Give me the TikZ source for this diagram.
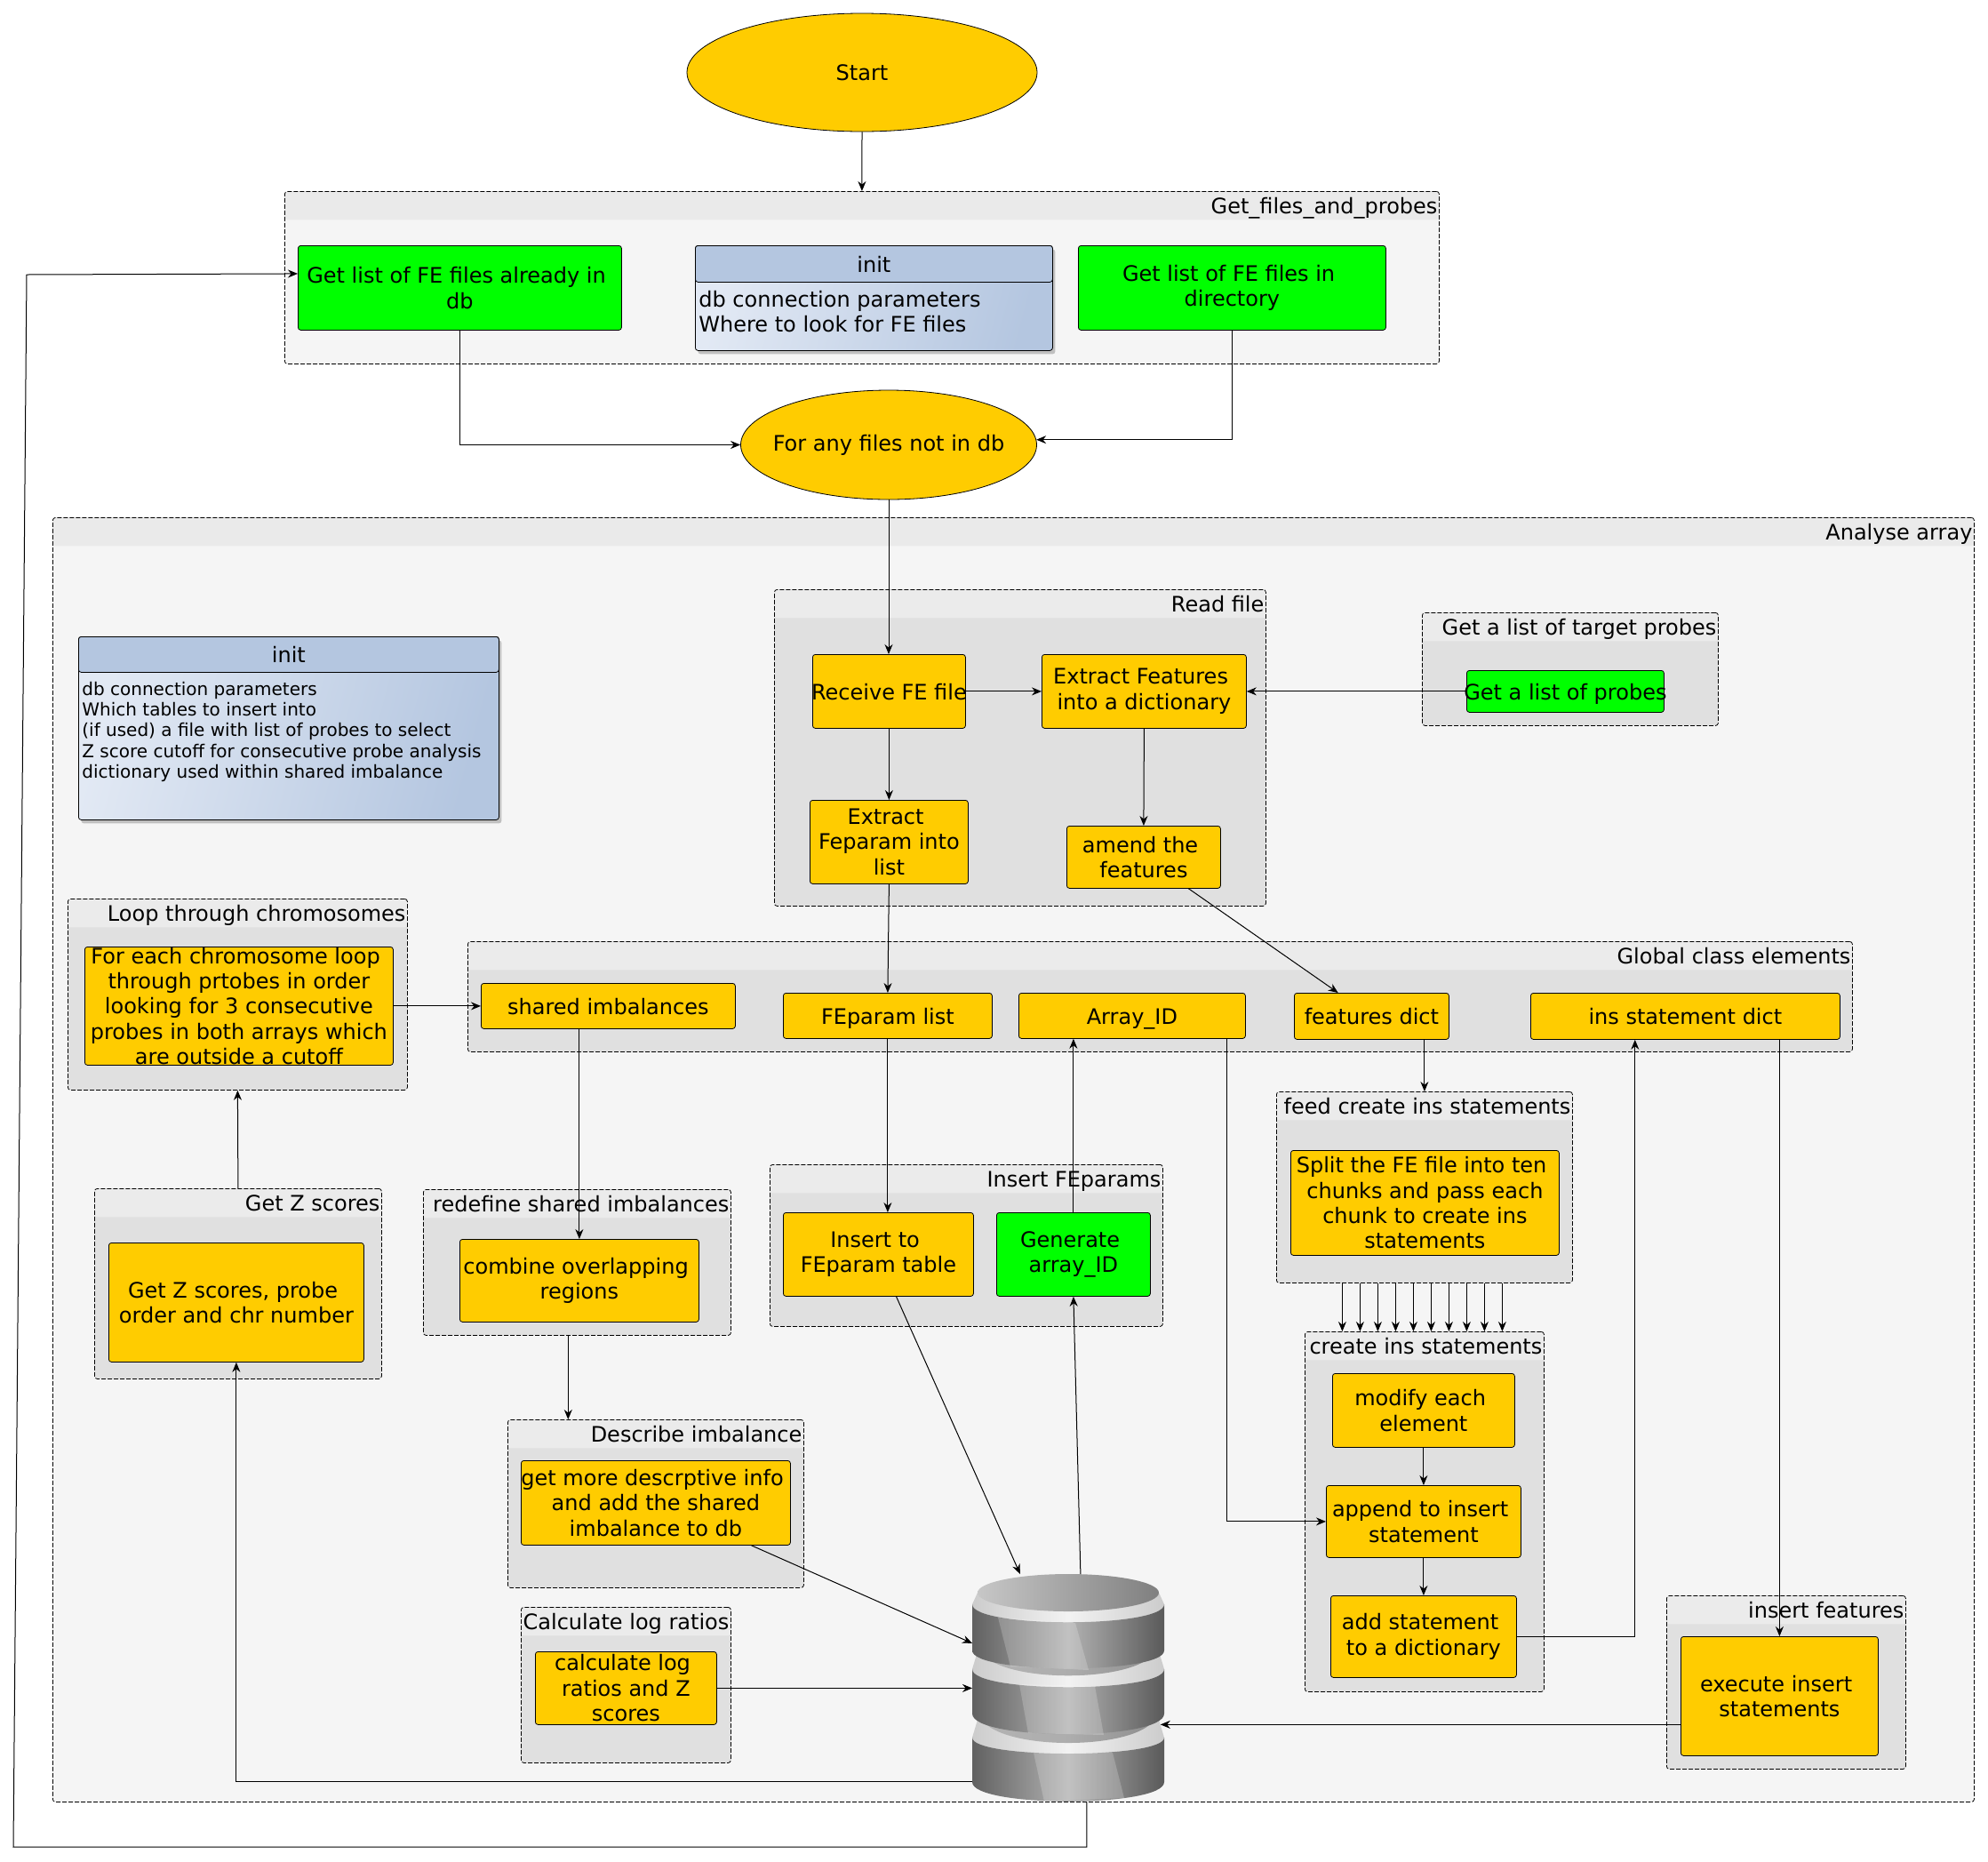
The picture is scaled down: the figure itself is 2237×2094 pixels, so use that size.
\documentclass[tikz,border=0pt]{standalone}
\usepackage{fontspec}
\setmainfont{DejaVu Sans}
\usetikzlibrary{arrows.meta,shapes.geometric,shadows}
\definecolor{flowgold}{HTML}{FFCC00}
\definecolor{flowgreen}{HTML}{00FF00}
\definecolor{initblue}{HTML}{B4C6E0}
\definecolor{initpale}{HTML}{E2E9F4}
\definecolor{outerbody}{HTML}{F5F5F5}
\definecolor{outerhead}{HTML}{EAEAEA}
\definecolor{innerbody}{HTML}{E0E0E0}
\definecolor{innerhead}{HTML}{EBEBEB}
\newcommand{\tsp}{\hspace*{0.318em}}
\tikzset{
  wh/.style 2 args={minimum width=#1*0.5pt,minimum height=#2*0.5pt},
  basefont/.style={font=\fontsize{12pt}{14.2pt}\selectfont},
  flowbox/.style={draw,rounded corners=1.5pt,anchor=north west,inner sep=0pt,align=center,line width=0.4pt,basefont},
  goldbox/.style={flowbox,fill=flowgold},
  greenbox/.style={flowbox,fill=flowgreen},
  oneline/.style={text height=11.2pt,text depth=2pt},
  oval/.style={draw,ellipse,fill=flowgold,inner sep=0pt,line width=0.4pt,basefont},
  groupbox/.style 2 args={draw,dash pattern=on 2.5pt off 1pt,rounded corners=1.5pt,anchor=north west,inner sep=0pt,line width=0.4pt,fill=#1,
    path picture={\fill[#2] (path picture bounding box.north west) rectangle ([yshift=-16pt]path picture bounding box.north east);}},
  outergroup/.style={groupbox={outerbody}{outerhead}},
  innergroup/.style={groupbox={innerbody}{innerhead}},
  grouptitle/.style={anchor=north east,inner xsep=1pt,inner ysep=0pt,minimum height=16pt,oneline,basefont},
  inithead/.style={draw,fill=initblue,rounded corners=1.5pt,anchor=north west,inner sep=0pt,line width=0.4pt,basefont},
  initbody/.style={draw,left color=initpale,right color=initblue,shading angle=75,rounded corners=1.5pt,anchor=north west,inner sep=0pt,line width=0.4pt,drop shadow={shadow xshift=1.5pt,shadow yshift=-2pt,opacity=0.45}},
  inittext/.style={anchor=north west,align=left,inner xsep=2pt},
  link/.style={-{Stealth[length=5.5pt,width=4.5pt]},line width=0.5pt},
  dbband/.style={left color=black!62,right color=black!65,middle color=black!30},
  dbrim/.style={left color=black!20,right color=black!20,middle color=black!5},
  dbgap/.style={left color=black!30,right color=black!45,middle color=black!32},
  dbshine/.style={fill=white,opacity=0.2}
}
\begin{document}
\begin{tikzpicture}[x=0.5pt,y=-0.5pt]
\useasboundingbox (0,0) rectangle (2237,2094);
\node[oval,oneline,wh={394}{133}] (start) at (970,81.5) {\makebox[0pt]{Start}};
\node[outergroup,wh={1299}{194}] (filesgroup) at (320,215) {};
\node[grouptitle] (filestitle) at (filesgroup.north east) {Get\_files\_and\_probes};
\node[greenbox,wh={364}{95}] (getdb) at (335,276) {Get list of FE files already in\tsp\\db};
\node[initbody,wh={402}{118}] (initabody) at (782,276) {};
\node[inithead,wh={402}{41}] (initahead) at (782,276) {init};
\node[inittext,inner ysep=4.5pt,basefont] (initatext) at (initahead.south west) {db connection parameters\\Where to look for FE files};
\node[greenbox,wh={346}{95}] (getdir) at (1213,276) {Get list of FE files in\tsp\\directory};
\node[oval,oneline,wh={333}{123}] (forany) at (1000,500.5) {\raisebox{1.2pt}{\makebox[0pt]{For any files not in db}}};
\node[outergroup,wh={2162}{1445}] (analyse) at (59,582) {};
\node[grouptitle] (analysetitle) at (analyse.north east) {Analyse array};
\node[innergroup,wh={553}{356}] (readfile) at (871,663) {};
\node[grouptitle] (readtitle) at (readfile.north east) {Read file};
\node[goldbox,oneline,wh={172}{83}] (receive) at (914,736) {\makebox[0pt]{Receive FE file}};
\node[goldbox,wh={230}{83}] (extfeat) at (1172,736) {Extract Features\tsp\\into a dictionary};
\node[goldbox,wh={178}{94}] (extparam) at (911,900) {Extract\tsp\\Feparam into\tsp\\list};
\node[goldbox,wh={173}{70}] (amend) at (1200,929) {amend the\tsp\\features};
\node[innergroup,wh={333}{127}] (targetgroup) at (1600,689) {};
\node[grouptitle] (targettitle) at (targetgroup.north east) {Get a list of target probes};
\node[greenbox,oneline,wh={222}{47}] (getprobes) at (1650,754) {\makebox[0pt]{Get a list of probes}};
\node[initbody,wh={473}{206}] (initbbody) at (88,716) {};
\node[inithead,wh={473}{40}] (initbhead) at (88,716) {init};
\node[inittext,inner ysep=5pt,font=\fontsize{10pt}{11.6pt}\selectfont] (initbtext) at (initbhead.south west) {db connection parameters\\Which tables to insert into\\(if used) a file with list of probes to select\\Z score cutoff for consecutive probe analysis\\dictionary used within shared imbalance};
\node[innergroup,wh={382}{215}] (loopgroup) at (76,1011) {};
\node[grouptitle] (looptitle) at (loopgroup.north east) {Loop through chromosomes};
\node[goldbox,wh={347}{133}] (loopbox) at (95,1065) {For each chromosome loop\tsp\\through prtobes in order\tsp\\looking for 3 consecutive\tsp\\probes in both arrays which\tsp\\are outside a cutoff};
\node[innergroup,wh={1558}{124}] (globalgroup) at (526,1059) {};
\node[grouptitle] (globaltitle) at (globalgroup.north east) {Global class elements};
\node[goldbox,oneline,wh={286}{51}] (shared) at (541,1106) {shared imbalances};
\node[goldbox,oneline,wh={235}{51}] (feplist) at (881,1117) {FEparam list};
\node[goldbox,oneline,wh={255}{51}] (arrayid) at (1146,1117) {Array\_ID};
\node[goldbox,oneline,wh={174}{52}] (featdict) at (1456,1117) {features dict};
\node[goldbox,oneline,wh={348}{52}] (insdict) at (1722,1117) {ins statement dict};
\node[innergroup,wh={333}{215}] (feed) at (1436,1228) {};
\node[grouptitle] (feedtitle) at (feed.north east) {feed create ins statements};
\node[goldbox,wh={302}{118}] (split) at (1452,1294) {Split the FE file into ten\tsp\\chunks and pass each\tsp\\chunk to create ins\tsp\\statements};
\node[innergroup,wh={269}{405}] (create) at (1468,1498) {};
\node[grouptitle] (createtitle) at (create.north east) {create ins statements};
\node[goldbox,wh={205}{83}] (modify) at (1499,1545) {modify each\tsp\\element};
\node[goldbox,wh={219}{81}] (append) at (1492,1671) {append to insert\tsp\\statement};
\node[goldbox,wh={209}{92}] (addstate) at (1497,1795) {add statement\tsp\\to a dictionary};
\node[innergroup,wh={442}{182}] (insgroup) at (866,1310) {};
\node[grouptitle] (instile) at (insgroup.north east) {Insert FEparams};
\node[goldbox,wh={214}{94}] (insfe) at (881,1364) {Insert to\tsp\\FEparam table};
\node[greenbox,wh={173}{94}] (generate) at (1121,1364) {Generate\tsp\\array\_ID};
\node[innergroup,wh={346}{164}] (redefine) at (476,1338) {};
\node[grouptitle] (redefinetitle) at (redefine.north east) {redefine shared imbalances};
\node[goldbox,wh={269}{93}] (combine) at (517,1394) {combine overlapping\tsp\\regions};
\node[innergroup,wh={333}{189}] (describe) at (571,1597) {};
\node[grouptitle] (describetitle) at (describe.north east) {Describe imbalance};
\node[goldbox,wh={303}{95}] (getmore) at (586,1643) {get more descrptive info\tsp\\and add the shared\tsp\\imbalance to db};
\node[innergroup,wh={236}{175}] (calcgroup) at (586,1808) {};
\node[grouptitle] (calctitle) at (calcgroup.north east) {Calculate log ratios};
\node[goldbox,wh={204}{82}] (calcbox) at (602,1858) {calculate log\tsp\\ratios and Z\tsp\\scores};
\node[innergroup,wh={323}{214}] (zgroup) at (106,1337) {};
\node[grouptitle] (ztitle) at (zgroup.north east) {Get Z scores};
\node[goldbox,wh={287}{134}] (zbox) at (122,1398) {Get Z scores, probe\tsp\\order and chr number};
\node[innergroup,wh={269}{195}] (featgroup) at (1875,1795) {};
\node[grouptitle] (feattitle) at (featgroup.north east) {insert features};
\node[goldbox,wh={222}{134}] (execute) at (1891,1841) {execute insert\tsp\\statements};
\node[anchor=north west,inner sep=0pt,wh={216}{256}] (db) at (1094,1771) {};
\coordinate (loopa) at (15,2078);
\coordinate (loopb) at (30,309);
\draw[link] (start.south) -- (filesgroup.north);
\draw[link] (getdb.south) |- (forany.west);
\draw[link] (getdir.south) |- (forany.2);
\draw[link] (forany.south) -- (forany.south |- receive.north);
\draw[link] (receive.east) -- (extfeat.west);
\draw[link] (getprobes.west) -- (extfeat.east);
\draw[link] (receive.south) -- (extparam.north);
\draw[link] (extparam.south) -- (feplist.north);
\draw[link] (extfeat.south) -- (amend.north);
\draw[link] (amend.-35) -- (featdict.145);
\draw[link] (loopbox.east) -- (shared.west);
\draw[link] (zgroup.north) -- (loopgroup.south);
\draw[link] (combine.north |- shared.south) -- (combine.north);
\draw[link] (redefine.-97.3) -- (redefine.-97.3 |- describe.north);
\draw[link] (feplist.south) -- (feplist.south |- insfe.north);
\draw[link] (generate.north) -- (generate.north |- arrayid.south);
\draw[link] (feed.north |- featdict.south) -- (feed.north);
\foreach \i in {0,...,9}
  \draw[link] ([xshift=\i*10pt-46.25pt]feed.south) -- ([xshift=\i*10pt-46.25pt]create.north);
\draw[link] (modify.south) -- (append.north);
\draw[link] (append.south) -- (addstate.north);
\draw[link] ([xshift=53.5pt]arrayid.south) |- (append.west);
\draw[link] (addstate.east) -| (insdict.205);
\draw[link] (execute.north |- insdict.south) -- (execute.north);
\draw[link] (insfe.-67) -- (db.113.5);
\draw[link] (db.84) -- (generate.south);
\draw[link] (getmore.-24.9) -- (db.155.6);
\draw[link] (calcbox.east) -- (db.west);
\draw[link,shorten >=-2.5pt] (execute.196.6) -- (execute.196.6 -| db.east);
\draw[link] (db.224.5) -| (zbox.south);
\draw[link] (db.-81.25) |- (loopa) -- (loopb) -- (getdb.175.45);
\shade[dbrim] (1100,1935) -- (1094,1955) .. controls (1094,1979) and (1310,1979) .. (1310,1955) -- (1304,1935) -- cycle;
\shade[dbband] (1094,1955) -- (1094,2005) .. controls (1094,2034) and (1310,2034) .. (1310,2005) -- (1310,1955) .. controls (1310,1979) and (1094,1979) .. (1094,1955) -- cycle;
\shade[dbgap] (1102,1925) .. controls (1102,1973) and (1302,1973) .. (1302,1925) -- cycle;
\shade[dbrim] (1100,1858) -- (1094,1878) .. controls (1094,1905) and (1310,1905) .. (1310,1878) -- (1304,1858) -- cycle;
\shade[dbband] (1094,1878) -- (1094,1928) .. controls (1094,1959) and (1310,1959) .. (1310,1928) -- (1310,1878) .. controls (1310,1905) and (1094,1905) .. (1094,1878) -- cycle;
\shade[dbgap] (1102,1850) .. controls (1102,1897) and (1302,1897) .. (1302,1850) -- cycle;
\shade[dbrim] (1100,1792) -- (1094,1805) .. controls (1094,1832) and (1310,1832) .. (1310,1805) -- (1304,1792) -- cycle;
\shade[dbband] (1094,1805) -- (1094,1857) .. controls (1094,1884) and (1310,1884) .. (1310,1857) -- (1310,1805) .. controls (1310,1832) and (1094,1832) .. (1094,1805) -- cycle;
\shade[left color=black!22,right color=black!50] (1202,1792) ellipse [x radius=51pt,y radius=10.5pt];
\fill[dbshine] (1123,1820) -- (1210,1826) -- (1225,1879) -- (1137,1875) -- cycle;
\fill[dbshine] (1147,1895) -- (1232,1897) -- (1242,1952) -- (1157,1950) -- cycle;
\fill[dbshine] (1163,1972) -- (1252,1972) -- (1265,2023) -- (1175,2027) -- cycle;
\end{tikzpicture}
\end{document}
